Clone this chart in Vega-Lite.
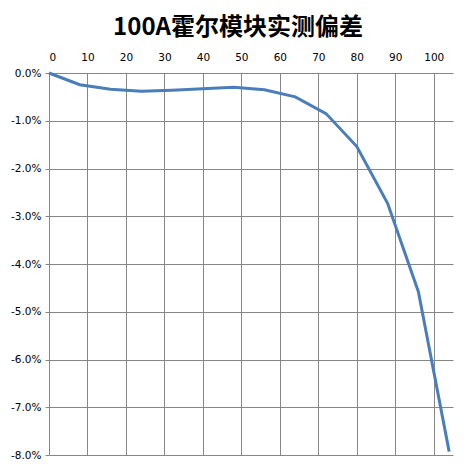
{
  "$schema": "https://vega.github.io/schema/vega-lite/v6.json",
  "autosize": "none",
  "padding": {"left": 49, "top": 73, "right": 13, "bottom": 11},
  "width": 404,
  "height": 382,
  "background": "white",
  "title": {
    "text": "100A霍尔模块实测偏差",
    "font": "Noto Sans CJK SC",
    "fontSize": 24,
    "fontWeight": "bold",
    "color": "black",
    "anchor": "middle",
    "dx": -13,
    "offset": 12
  },
  "data": {
    "values": [
      {"current": 0, "deviation": 0.0},
      {"current": 8, "deviation": -0.00245},
      {"current": 16, "deviation": -0.0034},
      {"current": 24, "deviation": -0.0038},
      {"current": 32, "deviation": -0.0036},
      {"current": 40, "deviation": -0.0033},
      {"current": 48, "deviation": -0.003},
      {"current": 56, "deviation": -0.0035},
      {"current": 64, "deviation": -0.005},
      {"current": 72, "deviation": -0.0085},
      {"current": 80, "deviation": -0.0154},
      {"current": 88, "deviation": -0.0273},
      {"current": 96, "deviation": -0.0458},
      {"current": 104, "deviation": -0.0793}
    ]
  },
  "mark": {"type": "line", "color": "#4a7ebb", "strokeWidth": 3, "clip": false},
  "encoding": {
    "x": {
      "field": "current",
      "type": "quantitative",
      "scale": {"domain": [0, 105], "nice": false, "zero": false},
      "axis": {
        "orient": "top",
        "title": null,
        "values": [0, 10, 20, 30, 40, 50, 60, 70, 80, 90, 100],
        "grid": true,
        "gridColor": "#868686",
        "gridOpacity": 1,
        "domain": false,
        "ticks": false,
        "labelPadding": 11,
        "labelFont": "DejaVu Sans",
        "labelFontSize": 10.5,
        "labelColor": "black"
      }
    },
    "y": {
      "field": "deviation",
      "type": "quantitative",
      "scale": {"domain": [-0.08, 0], "nice": false},
      "axis": {
        "title": null,
        "values": [0, -0.01, -0.02, -0.03, -0.04, -0.05, -0.06, -0.07, -0.08],
        "format": ".1%",
        "labelExpr": "replace(datum.label, '−', '-')",
        "grid": true,
        "gridColor": "#868686",
        "gridOpacity": 1,
        "domain": false,
        "tickColor": "#868686",
        "tickSize": 4,
        "labelPadding": 4,
        "labelFont": "DejaVu Sans",
        "labelFontSize": 10.5,
        "labelColor": "black"
      }
    }
  },
  "config": {"view": {"stroke": null}}
}
